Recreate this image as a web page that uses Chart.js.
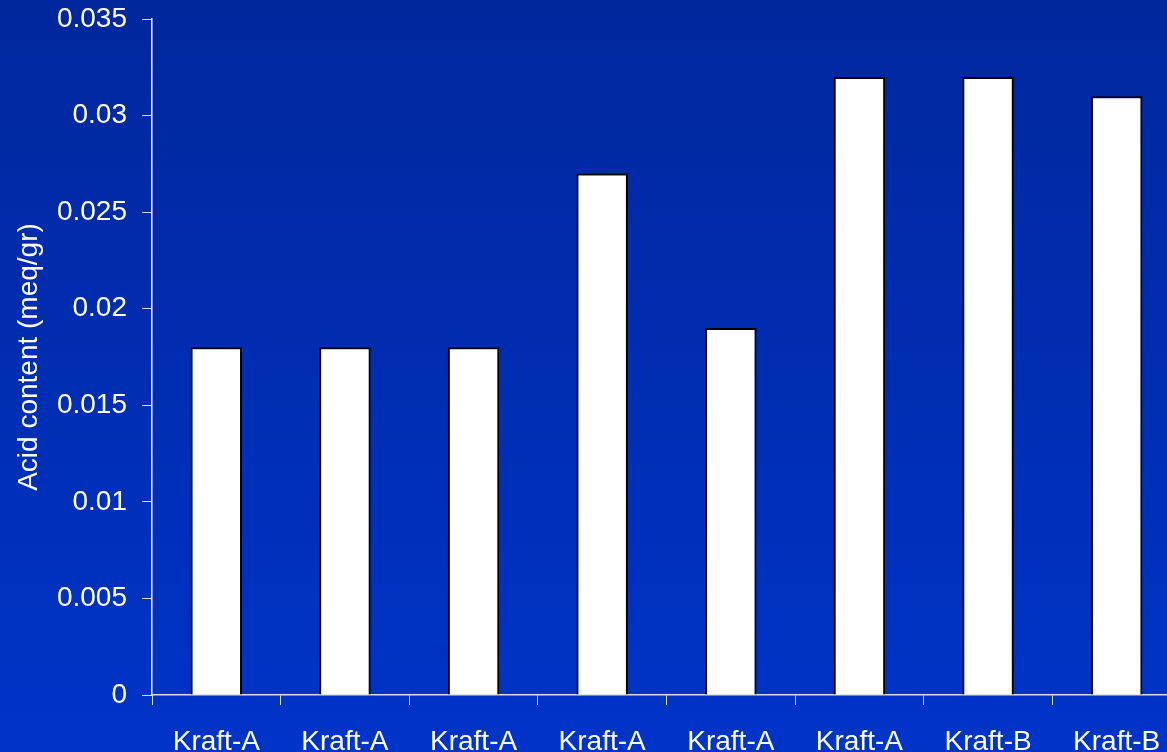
<!DOCTYPE html>
<html>
<head>
<meta charset="utf-8">
<title>Acid content</title>
<script src="https://cdn.jsdelivr.net/npm/chart.js@4"></script>
<style>
    html, body { margin: 0; padding: 0; background: #002ca8; overflow: hidden; }
    canvas { display: block; }
</style>
</head>
<body>
<!-- canvas is a bit wider than the window: the plot runs past the right edge in the original slide -->
<canvas id="acidChart" width="1181" height="752"></canvas>
<script>
const categories = ['Kraft-A', 'Kraft-A', 'Kraft-A', 'Kraft-A', 'Kraft-A', 'Kraft-A', 'Kraft-B', 'Kraft-B'];
const acidValues = [0.018, 0.018, 0.018, 0.027, 0.019, 0.032, 0.032, 0.031];
const yTicks = [0, 0.005, 0.01, 0.015, 0.02, 0.025, 0.03, 0.035];

// blue slide background, darker at the top
const backgroundPlugin = {
    id: 'slideBackground',
    beforeDraw(chart) {
        const ctx = chart.ctx;
        const g = ctx.createLinearGradient(0, 0, 0, chart.height);
        g.addColorStop(0, '#00279c');
        g.addColorStop(1, '#0034c8');
        ctx.save();
        ctx.fillStyle = g;
        ctx.fillRect(0, 0, chart.width, chart.height);
        ctx.restore();
    }
};

document.addEventListener('DOMContentLoaded', () => {
    const canvas = document.getElementById('acidChart');
    const font = { family: '"Liberation Sans", Arial, sans-serif', size: 28 };

    new Chart(canvas.getContext('2d'), {
        type: 'bar',
        data: {
            labels: categories,
            datasets: [{
                data: acidValues,
                backgroundColor: '#ffffff',
                borderColor: '#000000',
                borderWidth: 2,
                categoryPercentage: 1.0,
                barPercentage: 0.4
            }]
        },
        plugins: [backgroundPlugin],
        options: {
            responsive: false,
            animation: false,
            events: [],
            layout: { padding: { top: 19, right: 0, left: 0, bottom: 0 } },
            plugins: {
                legend: { display: false },
                tooltip: { enabled: false }
            },
            scales: {
                x: {
                    afterFit: (scale) => {
                        scale.height = 57;
                        scale.paddingLeft = 0;
                        scale.paddingRight = 0;
                    },
                    grid: {
                        offset: true,
                        drawOnChartArea: false,
                        tickLength: 10,
                        tickColor: '#d8dcf0'
                    },
                    border: { color: '#d8dcf0', width: 1.5 },
                    ticks: {
                        color: '#ffffff',
                        font: font,
                        padding: 20,
                        maxRotation: 0,
                        autoSkip: false
                    }
                },
                y: {
                    min: 0,
                    max: 0.035,
                    afterFit: (scale) => {
                        scale.width = 152;
                        scale.paddingTop = 0;
                        scale.paddingBottom = 0;
                    },
                    afterBuildTicks: (scale) => {
                        scale.ticks = yTicks.map(v => ({ value: v }));
                    },
                    grid: {
                        drawOnChartArea: false,
                        tickLength: 10,
                        tickColor: '#d8dcf0'
                    },
                    border: { color: '#ffffff', width: 1.5 },
                    title: {
                        display: true,
                        text: 'Acid content (meq/gr)',
                        color: '#ffffff',
                        font: font,
                        padding: { top: 12, bottom: 0 }
                    },
                    ticks: {
                        color: '#ffffff',
                        font: font,
                        padding: 15,
                        callback: (v) => String(Number(v.toFixed(3)))
                    }
                }
            }
        }
    });
});
</script>
</body>
</html>
